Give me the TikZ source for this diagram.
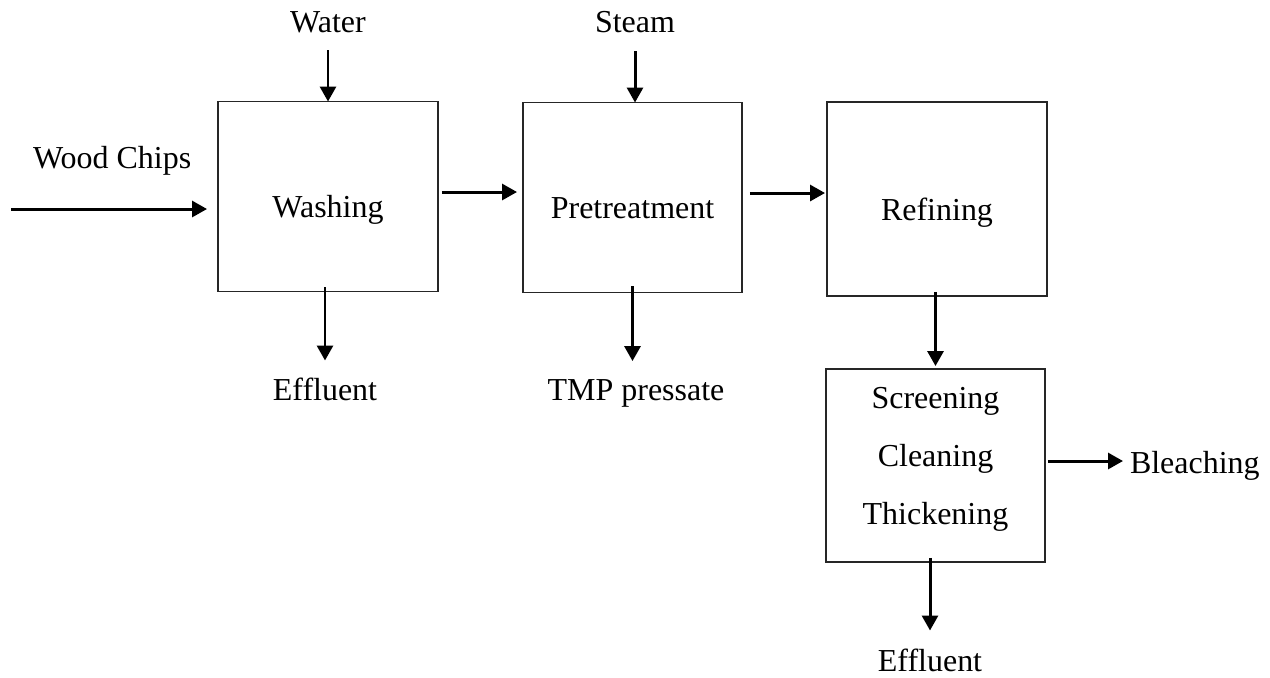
\documentclass[tikz,border=0pt]{standalone}
\usepackage{fontspec}
\setmainfont{Liberation Serif}
\usetikzlibrary{arrows.meta}
\begin{document}
\begin{tikzpicture}[x=0.02cm,y=-0.02cm,inner sep=0pt,outer sep=0pt,
font=\fontsize{18.2pt}{33pt}\selectfont,
procbox/.style={draw=black!85,rectangle,line width=0.7pt,minimum width=4.4cm,minimum height=3.8cm,text height=0.84cm,text depth=0pt,align=center},
flow/.style={line width=1.7pt,-{Triangle[length=0.3cm,width=0.32cm]}}]
\useasboundingbox (0,0) rectangle (1270,677);
\draw (328,196.5) node[procbox] (wash) {Washing};
\draw (632.5,197.5) node[procbox,minimum width=4.38cm] (pre) {Pretreatment};
\draw (937,199) node[procbox,minimum height=3.88cm] (refine) {Refining};
\draw (935.5,465.5) node[procbox,minimum width=4.38cm,minimum height=3.86cm,text height=2.34cm,text depth=0pt] (screen) {Screening\\Cleaning\\Thickening};
\draw (328,32) node[anchor=base] (water) {Water};
\draw (635,32) node[anchor=base] (steam) {Steam};
\draw (33,168) node[anchor=base west] (chips) {Wood Chips};
\draw (325,400) node[anchor=base] (eff1) {Effluent};
\draw (636,400) node[anchor=base] (tmp) {TMP pressate};
\draw (1130,473) node[anchor=base west] (bleach) {Bleaching};
\draw (930,671) node[anchor=base] (eff2) {Effluent};
\coordinate (chipsin) at (11,209);
\draw[flow,shorten >=0.22cm] (chipsin) -- (chipsin -| wash.west);
\draw[flow,shorten <=0.36cm] (water.base) -- (water.base |- wash.north);
\draw[flow,shorten <=0.38cm] (steam.base) -- (steam.base |- pre.north);
\draw[flow,shorten <=0.08cm,shorten >=0.12cm] ([yshift=0.09cm]wash.east) -- ([yshift=0.09cm]wash.east -| pre.west);
\draw[flow,shorten <=0.16cm,shorten >=0.04cm] ([yshift=0.09cm]pre.east) -- ([yshift=0.09cm]pre.east -| refine.west);
\draw[flow,shorten <=-0.08cm,shorten >=0.34cm] (eff1.north |- wash.south) -- (eff1.north);
\draw[flow,shorten <=-0.12cm,shorten >=0.36cm] (pre.south) -- (pre.south |- tmp.north);
\draw[flow,shorten <=-0.08cm,shorten >=0.06cm] (screen.north |- refine.south) -- (screen.north);
\draw[flow,shorten <=0.06cm,shorten >=0.14cm] ([yshift=0.09cm]screen.east) -- ([yshift=0.09cm]screen.east -| bleach.west);
\draw[flow,shorten <=-0.08cm,shorten >=0.36cm] (eff2.north |- screen.south) -- (eff2.north);
\end{tikzpicture}
\end{document}
